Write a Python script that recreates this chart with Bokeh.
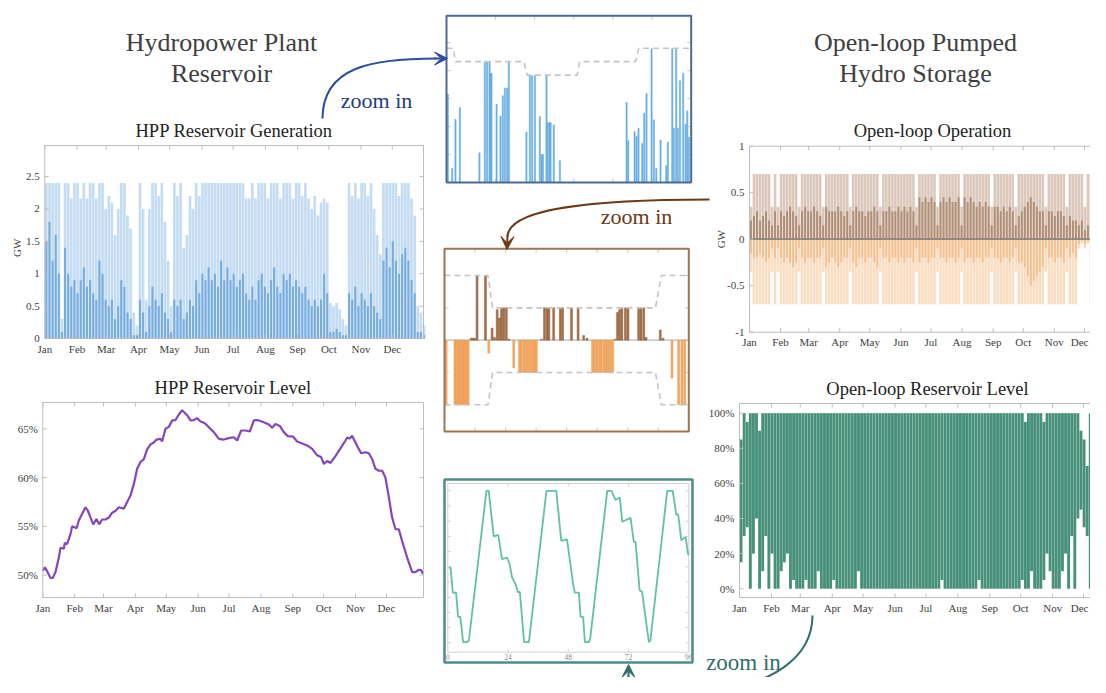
import numpy as np
from bokeh.plotting import figure
from bokeh.models import Range1d, Arrow, VeeHead
from bokeh.core.properties import value
from bokeh.embed import file_html
from bokeh.resources import INLINE

# ---------------- data ----------------
MONTHS = ["Jan", "Feb", "Mar", "Apr", "May", "Jun", "Jul", "Aug", "Sep", "Oct", "Nov", "Dec"]
MONTH_START = [0, 31, 59, 90, 120, 151, 181, 212, 243, 273, 304, 334]
BIN_DAYS = 3  # width of the aggregation bins (days) for the yearly series

# HPP reservoir generation (GW), 3-day bins: peak and typical output
gen_peak = [2.4, 2.4, 2.4, 2.4, 2.4, 0.3, 2.4, 2.4, 2.16, 2.4,
            2.4, 2.16, 2.4, 2.16, 2.4, 2.4, 2.16, 2.4, 2.4, 2.0,
            2.2, 2.1, 1.6, 2.0, 2.4, 2.4, 1.9, 1.7, 0.4, 0.2,
            2.4, 2.0, 0.6, 2.0, 2.4, 2.4, 2.2, 2.4, 1.8, 1.2,
            0.5, 2.4, 2.2, 2.4, 1.4, 1.6, 2.2, 2.0, 2.4, 2.2,
            2.4, 2.4, 2.4, 2.4, 2.4, 2.4, 2.4, 2.4, 2.4, 2.4,
            2.4, 2.4, 2.4, 2.4, 2.16, 2.16, 2.4, 2.16, 2.4, 2.4,
            2.4, 2.16, 2.4, 2.4, 2.4, 2.16, 2.4, 2.4, 2.4, 2.16,
            2.4, 2.4, 2.2, 2.4, 2.16, 2.0, 2.2, 1.9, 2.1, 2.16,
            2.1, 0.55, 0.5, 0.55, 0.45, 0.3, 0.2, 2.4, 2.2, 2.4,
            2.16, 2.4, 2.4, 2.2, 2.4, 2.0, 1.6, 1.3, 2.4, 2.4,
            2.4, 2.4, 2.4, 2.2, 2.4, 2.4, 2.4, 2.16, 1.9, 0.5,
            0.4, 0.2]
gen_mean = [1.5, 1.8, 1.2, 1.6, 1.0, 0.1, 1.4, 1.0, 0.8, 0.9,
            0.7, 0.9, 1.1, 0.8, 0.9, 0.7, 0.6, 1.2, 1.0, 0.6,
            0.5, 0.6, 0.3, 0.5, 0.9, 0.8, 0.4, 0.3, 0.05, 0.05,
            0.6, 0.4, 0.1, 0.5, 0.8, 0.6, 0.5, 0.7, 0.4, 0.3,
            0.1, 0.6, 0.5, 0.6, 0.3, 0.4, 0.6, 0.5, 0.9, 0.7,
            1.0, 0.9, 1.1, 0.9, 1.0, 0.8, 1.2, 0.9, 1.1, 0.9,
            1.0, 0.8, 0.9, 1.0, 0.7, 0.6, 0.8, 0.6, 0.9, 1.0,
            0.8, 0.7, 0.9, 1.1, 0.8, 0.7, 1.0, 0.9, 1.0, 0.8,
            0.9, 0.8, 0.7, 0.8, 0.6, 0.5, 0.6, 0.5, 0.6, 1.0,
            0.7, 0.1, 0.1, 0.15, 0.1, 0.05, 0.05, 0.7, 0.6, 0.8,
            0.5, 0.7, 0.6, 0.5, 0.7, 0.5, 0.4, 0.3, 1.2, 1.4,
            1.1, 1.5, 1.2, 1.0, 1.3, 1.4, 1.2, 0.9, 0.7, 0.1,
            0.1, 0.05]

# HPP reservoir level (% of capacity) vs day of year
lvl_day = [0, 2, 4.2, 7.5, 9.7, 12.3, 15.6, 17.2, 20.4, 21.4, 23.7, 26.9, 28.5, 32.8, 35, 38.3,
           41.5, 43.8, 46.4, 49, 52.2, 54.8, 57.7, 60.9, 64.2, 67.4, 70.7, 73.9, 78.7, 82, 85.2,
           88.5, 91.7, 94.9, 98.2, 101.4, 104.7, 107.9, 110.5, 114.4, 116, 119.2, 122.5, 125.7,
           129, 132.2, 135.4, 140.3, 143.5, 146.8, 150, 153.3, 157.1, 161.4, 166.2, 171.1, 175.9,
           180.8, 185.6, 188.9, 192.8, 197, 201.2, 205.1, 208.3, 211.6, 216.4, 219.7, 222.9,
           226.1, 230.4, 234.2, 238.1, 243.3, 247.2, 252.1, 256.9, 261.8, 266.6, 270.5, 273.1,
           276.4, 279.6, 284.4, 289.3, 294.2, 295.8, 298.4, 300.6, 302.9, 306.2, 309.4, 313.6,
           316.8, 320.1, 323.3, 326.6, 329.8, 333, 336.3, 339.5, 342.8, 346, 349.2, 354.1, 359,
           362.2, 365.4, 367.7, 369.6]
lvl_pct = [50.45, 50.8, 50.4, 49.7, 49.7, 50.3, 51.8, 52.8, 52.7, 53.3, 53.2, 54.2, 55.0, 54.8,
           55.6, 56.3, 56.95, 56.6, 55.9, 55.2, 55.75, 55.2, 55.7, 55.7, 55.9, 56.4, 56.6, 56.95,
           56.8, 57.5, 58.15, 59.35, 60.9, 61.6, 61.9, 62.9, 63.4, 63.6, 63.9, 63.97, 63.7, 65.0,
           65.2, 65.86, 65.9, 66.47, 66.9, 66.4, 65.86, 65.9, 66.1, 65.75, 65.6, 65.17, 64.66,
           63.97, 63.9, 64.05, 64.14, 63.8, 64.83, 64.83, 64.72, 65.86, 65.9, 65.8, 65.6, 65.45,
           65.1, 65.5, 65.3, 64.66, 64.25, 64.2, 63.7, 63.5, 63.3, 62.95, 62.3, 62.1, 61.4, 61.7,
           61.5, 62.2, 63.0, 63.8, 64.1, 64.0, 64.3, 63.8, 63.1, 62.5, 62.6, 62.5, 61.9, 60.9,
           60.7, 60.7, 60.0, 58.0, 55.9, 54.7, 54.7, 53.5, 51.8, 50.3, 50.3, 50.55, 50.5, 50.1]

# Open-loop operation (GW), 3-day bins: generation (+) and pumping (-)
op_gen_peak = [0.35, 0.7, 0.7, 0.7, 0.7, 0.7, 0.7, 0.35, 0.7, 0.35,
               0.7, 0.7, 0.7, 0.7, 0.7, 0.7, 0.35, 0.7, 0.7, 0.7,
               0.7, 0.7, 0.7, 0.7, 0.35, 0.7, 0.7, 0.7, 0.7, 0.7,
               0.7, 0.7, 0.7, 0.35, 0.7, 0.7, 0.7, 0.7, 0.7, 0.7,
               0.7, 0.7, 0.7, 0.35, 0.7, 0.7, 0.7, 0.7, 0.7, 0.7,
               0.7, 0.7, 0.7, 0.7, 0.7, 0.35, 0.7, 0.7, 0.7, 0.7,
               0.7, 0.7, 0.35, 0.7, 0.7, 0.7, 0.7, 0.7, 0.7, 0.7,
               0.35, 0.7, 0.7, 0.7, 0.7, 0.7, 0.7, 0.7, 0.7, 0.7,
               0.35, 0.7, 0.7, 0.7, 0.7, 0.7, 0.7, 0.7, 0.35, 0.7,
               0.7, 0.7, 0.7, 0.7, 0.7, 0.7, 0.7, 0.7, 0.35, 0.7,
               0.7, 0.7, 0.7, 0.7, 0.7, 0.35, 0.7, 0.7, 0.7, 0.7,
               0.7, 0.35, 0.7, 0.7, 0.7, 0.7, 0.7, 0.7, 0.35, 0.7,
               0.7, 0.7]
op_gen_mean = [0.2, 0.25, 0.3, 0.2, 0.25, 0.3, 0.2, 0.15, 0.3, 0.15,
               0.3, 0.25, 0.3, 0.35, 0.3, 0.25, 0.15, 0.3, 0.35, 0.3,
               0.3, 0.35, 0.3, 0.25, 0.15, 0.35, 0.3, 0.3, 0.3, 0.35,
               0.3, 0.25, 0.3, 0.15, 0.3, 0.35, 0.3, 0.3, 0.25, 0.3,
               0.3, 0.35, 0.3, 0.15, 0.3, 0.3, 0.35, 0.3, 0.3, 0.35,
               0.3, 0.35, 0.3, 0.35, 0.3, 0.15, 0.45, 0.4, 0.45, 0.4,
               0.45, 0.4, 0.15, 0.4, 0.45, 0.4, 0.45, 0.4, 0.4, 0.45,
               0.15, 0.45, 0.4, 0.45, 0.4, 0.35, 0.4, 0.35, 0.4, 0.35,
               0.15, 0.35, 0.35, 0.3, 0.35, 0.3, 0.35, 0.3, 0.15, 0.25,
               0.3, 0.35, 0.4, 0.45, 0.4, 0.35, 0.3, 0.3, 0.15, 0.3,
               0.3, 0.25, 0.3, 0.3, 0.25, 0.15, 0.25, 0.2, 0.2, 0.15,
               0.2, 0.1, 0.15, 0.15, 0.2, 0.15, 0.1, 0.15, 0.1, 0.15,
               0.1, 0.1]
op_pump_peak = [0.35, 0.7, 0.7, 0.7, 0.7, 0.7, 0.7, 0.35, 0.7, 0.35,
                0.7, 0.7, 0.7, 0.7, 0.7, 0.7, 0.35, 0.7, 0.7, 0.7,
                0.7, 0.7, 0.7, 0.7, 0.35, 0.7, 0.7, 0.7, 0.7, 0.7,
                0.7, 0.7, 0.7, 0.35, 0.7, 0.7, 0.7, 0.7, 0.7, 0.7,
                0.7, 0.7, 0.7, 0.35, 0.7, 0.7, 0.7, 0.7, 0.7, 0.7,
                0.7, 0.7, 0.7, 0.7, 0.7, 0.35, 0.7, 0.7, 0.7, 0.7,
                0.7, 0.7, 0.35, 0.7, 0.7, 0.7, 0.7, 0.7, 0.7, 0.7,
                0.35, 0.7, 0.7, 0.7, 0.7, 0.7, 0.7, 0.7, 0.7, 0.7,
                0.35, 0.7, 0.7, 0.7, 0.7, 0.7, 0.7, 0.7, 0.35, 0.7,
                0.7, 0.7, 0.7, 0.7, 0.7, 0.7, 0.7, 0.7, 0.35, 0.7,
                0.7, 0.7, 0.7, 0.7, 0.7, 0.35, 0.7, 0.7, 0.7, 0.1,
                0.05, 0.1, 0.05, 0.7, 0.1, 0.05, 0.1, 0.05, 0.1, 0.05,
                0.1, 0.05]
op_pump_mean = [0.15, 0.2, 0.2, 0.15, 0.2, 0.25, 0.2, 0.1, 0.2, 0.1,
                0.2, 0.25, 0.2, 0.25, 0.3, 0.25, 0.1, 0.2, 0.25, 0.2,
                0.2, 0.25, 0.2, 0.2, 0.1, 0.3, 0.25, 0.2, 0.25, 0.3,
                0.25, 0.2, 0.2, 0.1, 0.25, 0.3, 0.2, 0.2, 0.25, 0.2,
                0.2, 0.25, 0.3, 0.1, 0.2, 0.2, 0.25, 0.2, 0.2, 0.25,
                0.2, 0.25, 0.2, 0.2, 0.25, 0.1, 0.25, 0.2, 0.2, 0.25,
                0.2, 0.2, 0.1, 0.2, 0.2, 0.25, 0.2, 0.2, 0.25, 0.2,
                0.1, 0.25, 0.2, 0.2, 0.25, 0.2, 0.2, 0.25, 0.2, 0.2,
                0.1, 0.2, 0.2, 0.25, 0.2, 0.2, 0.25, 0.2, 0.1, 0.25,
                0.25, 0.3, 0.4, 0.5, 0.45, 0.4, 0.35, 0.3, 0.1, 0.2,
                0.2, 0.25, 0.2, 0.2, 0.25, 0.1, 0.2, 0.15, 0.2, 0.05,
                0.02, 0.05, 0.02, 0.45, 0.05, 0.02, 0.05, 0.02, 0.05, 0.02,
                0.05, 0.02]

# Open-loop reservoir level (%), 3-day bins: minimum and maximum
ol_lo = [15, 30, 35, 0, 20, 40, 0, 10, 30, 0,
         20, 0, 0, 10, 15, 20, 0, 5, 0, 0,
         0, 5, 0, 0, 0, 10, 0, 0, 0, 0,
         5, 0, 0, 0, 0, 0, 0, 0, 10, 0,
         0, 0, 0, 0, 0, 0, 0, 0, 0, 0,
         0, 0, 0, 0, 0, 0, 0, 0, 0, 0,
         0, 0, 0, 0, 0, 5, 0, 0, 0, 0,
         0, 0, 0, 0, 0, 0, 0, 5, 0, 0,
         0, 0, 0, 0, 0, 0, 0, 0, 0, 0,
         0, 5, 0, 0, 10, 0, 0, 0, 5, 20,
         10, 0, 0, 0, 10, 20, 0, 30, 0, 40,
         45, 35, 30, 0, 40, 45, 50, 10, 30, 35,
         40, 30]
ol_hi = [85, 100, 95, 100, 100, 100, 90, 100, 100, 100,
         100, 100, 100, 100, 100, 100, 100, 100, 100, 100,
         100, 100, 100, 100, 100, 100, 100, 100, 100, 100,
         100, 100, 100, 100, 100, 100, 100, 100, 100, 100,
         100, 100, 100, 100, 100, 100, 100, 100, 100, 100,
         100, 100, 100, 100, 100, 100, 100, 100, 100, 100,
         100, 100, 100, 100, 100, 100, 100, 100, 100, 100,
         100, 100, 100, 100, 100, 100, 100, 100, 100, 100,
         100, 100, 100, 100, 100, 100, 100, 100, 100, 100,
         100, 100, 95, 100, 100, 100, 100, 100, 95, 100,
         100, 100, 100, 100, 100, 100, 100, 100, 100, 100,
         90, 85, 70, 100, 100, 85, 70, 75, 60, 65,
         60, 55]

# Zoom 1: HPP generation, hourly (h, GW) and upper limit
z1_hour = [0.8, 3.5, 5.5, 8.2, 20.2, 23.5, 24.9, 26.4, 27.0, 27.6, 30.7, 33.1, 34.5, 35.8, 37.2,
           38.2, 49.0, 51.1, 52.5, 54.2, 57.2, 58.3, 59.1, 61.3, 62.1, 63.2, 63.8, 65.8, 69.5,
           110.4, 111.4, 115.3, 116.5, 117.7, 120.0, 121.2, 122.6, 125.7, 127.1, 128.6, 131.2,
           134.7, 135.7, 138.4, 139.4, 140.8, 141.9, 143.1, 145.1, 146.6, 147.6, 148.6]
z1_gw = [1.58, 0.25, 1.13, 1.34, 0.53, 2.16, 2.16, 2.16, 1.95, 1.95, 1.40, 1.19, 1.55, 1.69, 1.69,
         2.15, 0.90, 1.91, 1.91, 1.91, 1.18, 0.50, 0.50, 1.91, 1.07, 1.07, 1.07, 1.03, 0.39,
         1.43, 0.75, 0.91, 0.82, 0.97, 0.70, 1.24, 1.59, 2.39, 1.12, 0.25, 0.76,
         0.30, 0.72, 2.39, 0.97, 2.39, 0.97, 1.82, 1.95, 1.04, 1.28, 0.81]
z1_lim_hour = [0, 4.1, 5.5, 47.4, 49.5, 80.1, 81.6, 115.9, 117.9, 150]
z1_lim_gw = [2.4, 2.4, 2.16, 2.16, 1.92, 1.92, 2.16, 2.16, 2.4, 2.4]

# Zoom 2: open-loop operation, hourly
z2_gen_hour = [10.5, 11.2, 11.9, 12.8, 16.1, 18.7, 19.6, 20.7, 21.6, 22.4, 23.3, 24.3, 25.3,
               38.1, 39.3, 40.3, 41.0, 42.9, 45.5, 46.4, 49.9, 52.5, 54.7, 56.0,
               67.1, 68.0, 68.8, 69.7, 71.1, 72.1, 76.3, 77.2, 78.3, 79.2, 84.8, 85.9]
z2_gen_gw = [0.02, 0.02, 0.02, 0.70, 0.70, 0.13, 0.03, 0.33, 0.24, 0.35, 0.35, 0.35, 0.01,
             0.01, 0.35, 0.35, 0.35, 0.35, 0.35, 0.35, 0.35, 0.35, 0.05, 0.02,
             0.01, 0.30, 0.33, 0.35, 0.35, 0.35, 0.35, 0.35, 0.35, 0.03, 0.11, 0.02]
z2_pump_hour = [0.65, 4.1, 4.7, 5.4, 6.0, 6.7, 7.3, 8.0, 8.6, 9.3, 17.4, 27.2,
                29.5, 30.2, 31.2, 32.1, 32.9, 33.8, 34.7, 35.5, 36.1,
                58.2, 59.0, 59.9, 60.9, 61.6, 62.6, 63.5, 64.3, 65.2, 66.1,
                89.4, 92.0, 93.3, 94.4]
z2_pump_gw = [-0.7, -0.7, -0.7, -0.7, -0.7, -0.7, -0.7, -0.7, -0.7, -0.7, -0.14, -0.30,
              -0.35, -0.35, -0.35, -0.35, -0.35, -0.35, -0.35, -0.35, -0.35,
              -0.35, -0.35, -0.35, -0.35, -0.35, -0.35, -0.35, -0.35, -0.35, -0.35,
              -0.41, -0.70, -0.70, -0.70]
z2_lim_hour = [0, 17.1, 18.9, 82.9, 85.2, 96]
z2_lim_up = [0.7, 0.7, 0.35, 0.35, 0.7, 0.7]
z2_lim_dn = [-0.7, -0.7, -0.35, -0.35, -0.7, -0.7]

# Zoom 3: open-loop reservoir level, hourly
z3_hour = [0.4, 1.1, 2.0, 3.3, 4.1, 5.0, 6.1, 7.7, 8.4, 15.4, 16.3, 18.3, 20.1, 21.6, 23.6, 24.6,
           25.6, 27.0, 27.9, 28.7, 30.4, 32.3, 39.3, 43.2, 45.2, 47.5, 49.9, 50.6, 52.2, 52.9,
           53.9, 54.6, 56.2, 56.8, 63.5, 65.2, 66.8, 68.5, 69.5, 72.8, 74.1, 74.8, 76.4, 77.4,
           80.1, 80.7, 87.4, 89.6, 91.0, 91.8, 93.0, 94.7, 95.8]
z3_pct = [49.5, 49.5, 33, 33, 17, 17, 0.4, 0.4, 1.5, 100, 100, 70, 71, 55, 56, 52,
          43, 38.5, 33.4, 33.4, 0.4, 0.4, 100, 100, 67, 68, 39, 33, 33, 17,
          17, 0.4, 0.4, 3.7, 100, 100, 94, 95.6, 79.6, 82.2, 66.4, 66.4, 34.5, 33.4,
          0.4, 1.5, 100, 100, 84.4, 84.4, 67.5, 69.7, 57.6]

# ---------------- figure ----------------
SERIF = "Liberation Serif"
TXT = "#404040"
AX = "#bdbdbd"
PAGE_W, PAGE_H = 1090, 677

p = figure(width=PAGE_W, height=PAGE_H, x_range=Range1d(0, PAGE_W), y_range=Range1d(PAGE_H, 0),
           output_backend="svg", toolbar_location=None, min_border=0,
           x_axis_location=None, y_axis_location=None)
p.xgrid.visible = False
p.ygrid.visible = False
p.outline_line_color = None


def panel(px, py, xr, yr):
    """px=(left,right) and py=(top,bottom) in page pixels; xr,yr data ranges."""
    sub = p.subplot(x_source=Range1d(xr[0], xr[1]), y_source=Range1d(yr[0], yr[1]),
                    x_target=Range1d(px[0], px[1]), y_target=Range1d(py[1], py[0]))
    ux = (xr[1] - xr[0]) / (px[1] - px[0])
    uy = (yr[1] - yr[0]) / (py[1] - py[0])
    return sub, ux, uy


def frame(sub, xr, yr, ux, uy, xt, yt, color=AX, lw=1, tick=4, box=True):
    if box:
        sub.quad(left=[xr[0]], right=[xr[1]], bottom=[yr[0]], top=[yr[1]],
                 fill_color=None, line_color=color, line_width=lw)
    if xt:
        n = len(xt)
        sub.segment(x0=list(xt) * 2, x1=list(xt) * 2,
                    y0=[yr[0]] * n + [yr[1]] * n,
                    y1=[yr[0] + tick * uy] * n + [yr[1] - tick * uy] * n,
                    line_color=color, line_width=1)
    if yt:
        n = len(yt)
        sub.segment(y0=list(yt) * 2, y1=list(yt) * 2,
                    x0=[xr[0]] * n + [xr[1]] * n,
                    x1=[xr[0] + tick * ux] * n + [xr[1] - tick * ux] * n,
                    line_color=color, line_width=1)


def txt(target, x, y, s, size, color=TXT, align="center", baseline="middle", angle=0):
    target.text(x=x, y=y, text=s, text_font=value(SERIF), text_font_size=f"{size}px",
                text_color=color, text_align=align, text_baseline=baseline, angle=angle)


def month_axis(sub, xr, yr, ux, uy, px0):
    # labels centred under the month ticks; one that would leave the page is pulled in
    inside_x, inside_t, edge_x, edge_t = [], [], [], []
    for m, name in zip(MONTH_START, MONTHS):
        pix = px0 + (m - xr[0]) / ux
        if pix + 10 > PAGE_W - 1:
            edge_x.append(xr[0] + (PAGE_W - 2 - px0) * ux)
            edge_t.append(name)
        else:
            inside_x.append(m)
            inside_t.append(name)
    txt(sub, inside_x, [yr[0] - 4 * uy] * len(inside_x), inside_t, 11, baseline="top")
    if edge_x:
        txt(sub, edge_x, [yr[0] - 4 * uy] * len(edge_x), edge_t, 11, baseline="top", align="right")


def ytick_labels(sub, xr, ticks, labels, ux):
    txt(sub, [xr[0] - 5 * ux] * len(ticks), ticks, labels, 11, align="right")


def title(sub, xr, yr, uy, s):
    txt(sub, [(xr[0] + xr[1]) / 2], [yr[1] + 5 * uy], [s], 18.5, color="#222222", baseline="bottom")


bins_x = [BIN_DAYS * i + BIN_DAYS / 2 for i in range(len(gen_peak))]

# ---- Panel 1: HPP Reservoir Generation
xr, yr = (0, 364), (0, 2.98)
s1, ux, uy = panel((44.3, 423), (145, 338), xr, yr)
s1.vbar(x=bins_x, width=2.6, bottom=0, top=gen_peak, fill_color="#4a94db", fill_alpha=0.32, line_alpha=0)
s1.vbar(x=bins_x, width=2.0, bottom=0, top=gen_mean, fill_color="#2a7ccc", fill_alpha=0.5, line_alpha=0)
yt = [0, 0.5, 1, 1.5, 2, 2.5]
frame(s1, xr, yr, ux, uy, MONTH_START, yt)
month_axis(s1, xr, yr, ux, uy, 44.3)
ytick_labels(s1, xr, yt, ["0", "0.5", "1", "1.5", "2", "2.5"], ux)
title(s1, xr, yr, uy, "HPP Reservoir Generation")
txt(s1, [xr[0] - 28 * ux], [1.40], ["GW"], 11, angle=np.pi / 2)

# ---- Panel 2: HPP Reservoir Level
xr, yr = (0, 370), (47.7, 67.7)
s2, ux, uy = panel((42.3, 423), (402, 597), xr, yr)
s2.line(x=lvl_day, y=lvl_pct, line_color="#8446b8", line_width=2.2)
yt = [50, 55, 60, 65]
frame(s2, xr, yr, ux, uy, MONTH_START, yt)
month_axis(s2, xr, yr, ux, uy, 42.3)
ytick_labels(s2, xr, yt, ["50%", "55%", "60%", "65%"], ux)
title(s2, xr, yr, uy, "HPP Reservoir Level")

# ---- Panel 3: Open-loop Operation
xr, yr = (0, 365), (-1, 1)
s3, ux, uy = panel((749, 1115), (145.7, 331.7), xr, yr)
s3.vbar(x=bins_x, width=2.6, bottom=0, top=op_gen_peak, fill_color="#a57653", fill_alpha=0.4, line_alpha=0)
s3.vbar(x=bins_x, width=2.0, bottom=0, top=op_gen_mean, fill_color="#7a4a25", fill_alpha=0.45, line_alpha=0)
s3.vbar(x=bins_x, width=2.6, bottom=0, top=[-v for v in op_pump_peak], fill_color="#f5b57a", fill_alpha=0.45, line_alpha=0)
s3.vbar(x=bins_x, width=2.0, bottom=0, top=[-v for v in op_pump_mean], fill_color="#ec9646", fill_alpha=0.4, line_alpha=0)
s3.line(x=[xr[0], xr[1]], y=[0, 0], line_color="#707070", line_width=1.3)
yt = [-1, -0.5, 0, 0.5, 1]
frame(s3, xr, yr, ux, uy, MONTH_START, yt)
month_axis(s3, xr, yr, ux, uy, 749)
ytick_labels(s3, xr, yt, ["-1", "-0.5", "0", "0.5", "1"], ux)
title(s3, xr, yr, uy, "Open-loop Operation")
txt(s3, [xr[0] - 29 * ux], [0], ["GW"], 11, angle=np.pi / 2)

# ---- Panel 4: Open-loop Reservoir Level
xr, yr = (0, 365), (-5, 105.5)
s4, ux, uy = panel((739, 1115), (403, 597), xr, yr)
s4.vbar(x=bins_x, width=2.8, bottom=ol_lo, top=ol_hi, fill_color="#3d8a72", fill_alpha=0.95, line_alpha=0)
yt = [0, 20, 40, 60, 80, 100]
frame(s4, xr, yr, ux, uy, MONTH_START, yt)
month_axis(s4, xr, yr, ux, uy, 739)
ytick_labels(s4, xr, yt, ["0%", "20%", "40%", "60%", "80%", "100%"], ux)
title(s4, xr, yr, uy, "Open-loop Reservoir Level")

# ---- Zoom 1 (HPP generation detail)
xr, yr = (0, 150), (0, 2.98)
z1, ux, uy = panel((446, 690.7), (15.3, 182), xr, yr)
frame(z1, xr, yr, ux, uy, [30, 54, 78, 102, 126], [0.5, 1, 1.5, 2, 2.5], box=False, color="#c8c8c8")
z1.vbar(x=z1_hour, width=0.75, bottom=0, top=z1_gw, fill_color="#6fb4e6", line_color="#5aa6de", line_width=0.5)
z1.line(x=z1_lim_hour, y=z1_lim_gw, line_color="#c4c4c4", line_width=1.6, line_dash="6 4")
z1.quad(left=[xr[0]], right=[xr[1]], bottom=[yr[0]], top=[yr[1]], fill_color=None,
        line_color="#4c6a98", line_width=2)

# ---- Zoom 2 (open-loop operation detail)
xr, yr = (0, 96), (-0.99, 0.99)
z2, ux, uy = panel((444, 688.3), (248.3, 431), xr, yr)
frame(z2, xr, yr, ux, uy, [12, 24, 36, 48, 60, 72, 84], [-0.7, -0.35, 0.35, 0.7], box=False, color="#c8c8c8")
z2.line(x=[xr[0], xr[1]], y=[0, 0], line_color="#b8b8b8", line_width=1.2)
z2.vbar(x=z2_gen_hour, width=0.75, bottom=0, top=z2_gen_gw, fill_color="#a8714a", line_color="#8f5d38", line_width=0.5)
z2.vbar(x=z2_pump_hour, width=0.75, bottom=0, top=z2_pump_gw, fill_color="#f3a962", line_color="#e8964a", line_width=0.5)
z2.line(x=z2_lim_hour, y=z2_lim_up, line_color="#c4c4c4", line_width=1.6, line_dash="6 4")
z2.line(x=z2_lim_hour, y=z2_lim_dn, line_color="#c4c4c4", line_width=1.6, line_dash="6 4")
z2.quad(left=[xr[0]], right=[xr[1]], bottom=[yr[0]], top=[yr[1]], fill_color=None,
        line_color="#9c7552", line_width=2)

# ---- Zoom 3 (open-loop level detail)
p.quad(left=[444], right=[692], top=[479], bottom=[662], fill_color=None, line_color="#4f8c88", line_width=2.5)
xr, yr = (0, 96), (-6.2, 104.8)
z3, ux, uy = panel((447.3, 688.3), (483, 651.7), xr, yr)
frame(z3, xr, yr, ux, uy, [24, 48, 72], list(range(0, 101, 10)), color="#d0d0d0", tick=3)
z3.line(x=z3_hour, y=z3_pct, line_color="#62c0a6", line_width=1.8)
txt(z3, [0, 24, 48, 72, 96], [yr[0] - 1.5 * uy] * 5, ["0", "24", "48", "72", "96"], 7.5,
    color="#8a8a8a", baseline="top")

# ---- Section titles
txt(p, [221, 221], [42, 73], ["Hydropower Plant", "Reservoir"], 26)
txt(p, [915, 915], [42, 73], ["Open-loop Pumped", "Hydro Storage"], 26)

# ---- Arrows and "zoom in" labels
BLUE, BROWN, TEAL = "#2b4f9e", "#6b3a16", "#2f6f6a"
p.bezier(x0=[322], y0=[118], x1=[436], y1=[58], cx0=[322], cy0=[66], cx1=[372], cy1=[58],
         line_color=BLUE, line_width=2)
p.add_layout(Arrow(end=VeeHead(size=13, fill_color=BLUE, line_color=BLUE),
                   x_start=434, y_start=58, x_end=447, y_end=58, line_color=BLUE, line_width=2))
txt(p, [376], [100], ["zoom in"], 22, color="#1f3d7a")

p.bezier(x0=[709], y0=[199], x1=[507], y1=[236], cx0=[590], cy0=[199], cx1=[508], cy1=[208],
         line_color=BROWN, line_width=2)
p.add_layout(Arrow(end=VeeHead(size=13, fill_color=BROWN, line_color=BROWN),
                   x_start=507, y_start=234, x_end=506.5, y_end=249, line_color=BROWN, line_width=2))
txt(p, [636], [216], ["zoom in"], 22, color=BROWN)

p.bezier(x0=[812], y0=[615], x1=[628], y1=[676], cx0=[812], cy0=[705], cx1=[630], cy1=[705],
         line_color=TEAL, line_width=2)
p.add_layout(Arrow(end=VeeHead(size=13, fill_color=TEAL, line_color=TEAL),
                   x_start=628, y_start=678, x_end=628, y_end=664, line_color=TEAL, line_width=2))
txt(p, [743], [662], ["zoom in"], 23, color=TEAL)

open("out.html", "w").write(file_html(p, INLINE))
